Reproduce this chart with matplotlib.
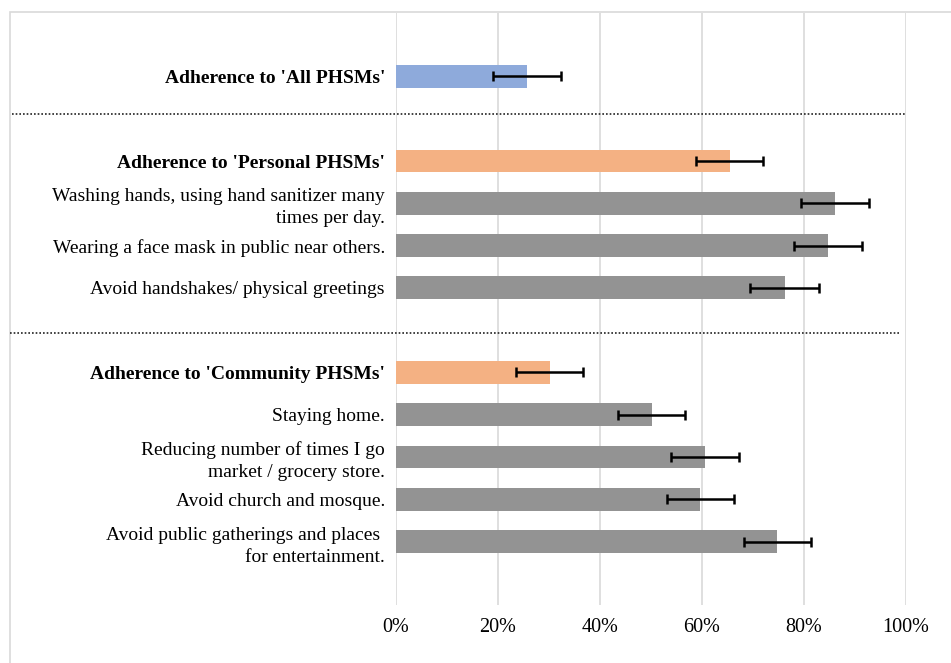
import matplotlib
matplotlib.use("Agg")
import matplotlib.pyplot as plt
from matplotlib.lines import Line2D
from matplotlib.patches import Rectangle
from matplotlib.ticker import PercentFormatter
import matplotlib.transforms as mtransforms

labels = [
    "Adherence to 'All PHSMs'",
    "Adherence to 'Personal PHSMs'",
    "Washing hands, using hand sanitizer many\ntimes per day.",
    "Wearing a face mask in public near others.",
    "Avoid handshakes/ physical greetings",
    "Adherence to 'Community PHSMs'",
    "Staying home.",
    "Reducing number of times I go\nmarket / grocery store.",
    "Avoid church and mosque.",
    "Avoid public gatherings and places \nfor entertainment.",
]
values = [25.7, 65.4, 86.1, 84.7, 76.2, 30.1, 50.1, 60.6, 59.7, 74.8]
errors = [6.7, 6.6, 6.7, 6.6, 6.7, 6.6, 6.6, 6.6, 6.6, 6.6]
kinds = ["all", "group", "item", "item", "item", "group", "item", "item", "item", "item"]

colors = {"all": "#8eaadb", "group": "#f4b183", "item": "#939393"}

plt.rcParams["font.family"] = ["Liberation Serif", "DejaVu Serif"]

# one row per bar, with an empty row before each group heading
positions = []
pos = -1
for k in kinds:
    pos += 2 if (k == "group") else 1
    positions.append(pos)

fig = plt.figure(figsize=(9.51, 6.63), dpi=100)
W, H = 951, 663
ax = fig.add_axes([396 / W, 1 - 605 / H, 510 / W, 592 / H])

ax.barh(positions, values, height=0.54,
        color=[colors[k] for k in kinds], zorder=3)
ax.errorbar(values, positions, xerr=errors, fmt="none", ecolor="black",
            elinewidth=1.8, capsize=3.5, capthick=1.8, zorder=4)

ax.set_xlim(0, 100)
ax.set_ylim(positions[-1] + 1.5, -1.5)
ax.set_xticks(range(0, 101, 20))
ax.xaxis.set_major_formatter(PercentFormatter(decimals=0))
ax.set_yticks(positions)
ax.set_yticklabels(labels, fontsize=14.0)
for lab, k in zip(ax.get_yticklabels(), kinds):
    lab.set_multialignment("right")
    lab.set_linespacing(1.38)
    if k != "item":
        lab.set_fontweight("bold")
ax.tick_params(axis="x", length=0, pad=9, labelsize=14.5)
ax.tick_params(axis="y", length=0, pad=8)
ax.grid(axis="x", color="#d9d9d9", linewidth=1.2, zorder=0)
for s in ax.spines.values():
    s.set_visible(False)

# dotted separators between the groups
trans = mtransforms.blended_transform_factory(fig.transFigure, ax.transData)
for y, x0, x1 in [(0.88, 12, 906), (6.07, 10, 900)]:
    fig.add_artist(Line2D([x0 / W, x1 / W], [y, y], transform=trans,
                          color="#222222", linewidth=1.2,
                          linestyle=(0, (1, 1.2))))

# light frame around the chart area
fig.add_artist(Rectangle((10 / W, -0.1), 1.1, 1 - 12 / H + 0.1,
                         transform=fig.transFigure, fill=False,
                         edgecolor="#d9d9d9", linewidth=1.2))

fig.savefig("out.png", dpi=100)
